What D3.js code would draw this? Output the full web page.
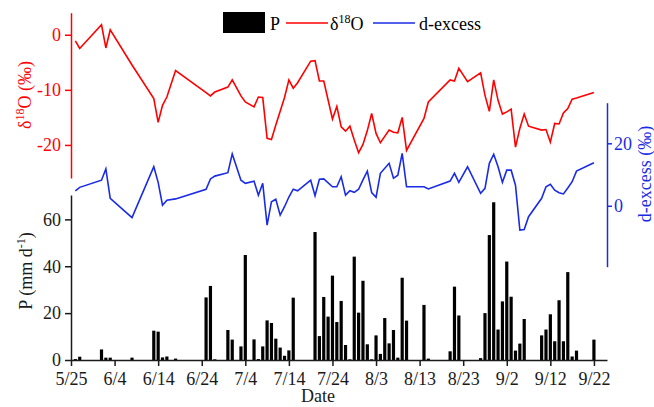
<!DOCTYPE html>
<html>
<head>
<meta charset="utf-8">
<script src="https://cdn.jsdelivr.net/npm/d3@7"></script>
<style>
  body { margin: 0; background: #fff; }
  text { font-family: "Liberation Serif", "Times New Roman", serif; }
</style>
</head>
<body>
<div id="chart"></div>
<script>
// Isotope sampling dates (month/day)
const sampleDates = ["5/26","5/27","6/1","6/2","6/3","6/8","6/13","6/14","6/15","6/16","6/18",
  "6/25","6/26","6/27","6/30","7/1","7/3","7/4","7/6","7/7","7/8","7/9","7/10","7/11","7/12",
  "7/13","7/14","7/15","7/16","7/19","7/20","7/21","7/22","7/24","7/25","7/26","7/27","7/28",
  "7/29","7/30","7/31","8/1","8/2","8/3","8/4","8/6","8/7","8/8","8/9","8/10","8/14","8/15",
  "8/20","8/21","8/22","8/24","8/27","8/28","8/29","8/30","8/31","9/1","9/2","9/3","9/4","9/5",
  "9/6","9/7","9/10","9/11","9/12","9/13","9/14","9/15","9/16","9/17","9/18","9/22"];

// δ18O (‰)
const d18O = [-1.1,-2.5,1.8,-2.4,0.9,-5.5,-11.6,-15.9,-12.8,-11.3,-6.5,
  -10.5,-11.1,-10.4,-9.5,-8.2,-11.1,-12.2,-13.1,-11.3,-11.4,-18.8,-19.0,-16.4,-13.9,
  -11.4,-8.2,-9.7,-8.7,-4.8,-4.7,-8.4,-8.4,-15.3,-13.0,-16.7,-17.5,-16.6,
  -19.1,-21.4,-19.9,-17.4,-14.3,-17.9,-19.6,-17.3,-17.7,-17.8,-15.0,-21.0,-15.2,-12.2,
  -8.2,-8.4,-6.1,-8.5,-6.9,-11.0,-13.9,-8.2,-11.9,-14.4,-14.0,-13.5,-20.4,-17.0,
  -14.4,-16.6,-17.3,-17.2,-19.5,-16.1,-16.2,-14.2,-13.4,-11.7,-11.5,-10.5];

// d-excess (‰)
const dExcess = [4.8,5.9,8.2,11.8,2.4,-3.8,12.5,7.5,0.2,1.8,2.2,
  5.3,8.6,9.5,10.6,16.6,8.2,7.2,7.9,3.4,7.2,-6.2,1.3,2.1,-3.0,
  -0.3,2.8,5.3,4.8,8.2,3.2,8.5,8.6,6.1,6.1,9.3,3.4,4.8,
  4.3,5.3,8.3,11.1,4.2,2.7,10.4,13.6,8.8,9.8,16.8,6.1,6.1,5.4,
  7.9,10.4,7.5,12.5,4.0,5.6,13.6,16.5,12.5,7.5,11.4,11.4,6.6,-7.8,
  -7.6,-3.5,2.4,6.1,6.9,5.0,4.2,3.8,5.7,7.7,11.1,13.8];

// Daily precipitation (mm/d)
const rainDates = ["5/26","5/27","6/1","6/2","6/3","6/8","6/13","6/14","6/15","6/16","6/18",
  "6/25","6/26","6/27","6/30","7/1","7/3","7/4","7/6","7/7","7/8","7/9","7/10","7/11","7/12",
  "7/13","7/14","7/15","7/20","7/21","7/22","7/23","7/24","7/25","7/26","7/27","7/28","7/29",
  "7/30","7/31","8/1","8/2","8/3","8/4","8/5","8/6","8/7","8/8","8/9","8/10","8/14","8/15",
  "8/20","8/21","8/22","8/27","8/28","8/29","8/30","8/31","9/1","9/2","9/3","9/4","9/5","9/6",
  "9/10","9/11","9/12","9/13","9/14","9/15","9/16","9/17","9/18","9/22"];
const rainAmount = [0.4,1.4,4.5,1.0,1.0,1.0,12.5,12.1,1.1,1.5,0.6,
  26.7,31.6,0.3,12.8,8.7,5.8,44.8,8.8,0.4,5.8,16.9,15.8,9.1,5.3,
  1.8,4.1,26.6,54.6,10.2,26.9,18.5,36.0,16.2,25.2,6.4,0.3,44.1,
  20.2,33.8,6.7,0.3,10.5,2.6,17.9,7.1,12.8,1.0,35.1,16.8,23.5,0.6,
  3.7,31.3,19.0,0.8,20.0,53.3,67.3,13.0,25.0,42.0,27.0,4.0,7.0,17.5,
  10.5,13.0,19.5,8.0,25.5,8.0,37.5,1.5,4.0,8.7];

// Tick labels
const dateTicks = ["5/25","6/4","6/14","6/24","7/4","7/14","7/24","8/3","8/13","8/23","9/2","9/12","9/22"];
const d18OTicks = [-20, -10, 0];
const dExcessTicks = [0, 20];
const rainTicks = [0, 20, 40, 60];

const width = 654, height = 407;
const red = "#ff0000", blue = "#1a2be6", dark = "#1a1a1a";

// "m/d" -> Date
const day = s => { const [m, d] = s.split("/").map(Number); return new Date(2019, m - 1, d); };

const svg = d3.select("#chart")
    .append("svg")
    .attr("width", width)
    .attr("height", height);

// Scales
const x = d3.scaleTime().domain([day("5/25"), day("9/25")]).range([71, 607]);
const yO = d3.scaleLinear().domain([-26, 4]).range([178, 12.7]);
const yD = d3.scaleLinear().domain([-19.5, 33]).range([266.7, 102.7]);
const yP = d3.scaleLinear().domain([0, 70.4]).range([360, 195]);

// Precipitation bars
svg.append("g")
    .selectAll("rect")
    .data(rainDates.map((d, i) => ({ date: day(d), v: rainAmount[i] })))
    .join("rect")
    .attr("x", d => x(d.date) - 1.6)
    .attr("width", 3.2)
    .attr("y", d => yP(d.v))
    .attr("height", d => yP(0) - yP(d.v))
    .attr("fill", "#000");

// Isotope lines
const samples = sampleDates.map((d, i) => ({ date: day(d), o: d18O[i], dx: dExcess[i] }));

svg.append("path")
    .datum(samples)
    .attr("fill", "none")
    .attr("stroke", red)
    .attr("stroke-width", 1.6)
    .attr("d", d3.line().x(d => x(d.date)).y(d => yO(d.o)));

svg.append("path")
    .datum(samples)
    .attr("fill", "none")
    .attr("stroke", blue)
    .attr("stroke-width", 1.6)
    .attr("d", d3.line().x(d => x(d.date)).y(d => yD(d.dx)));

// Axis styling helper
const styleAxis = (g, color) => {
    g.select(".domain").attr("stroke", color).attr("stroke-width", 1.5);
    g.selectAll(".tick line").attr("stroke", color).attr("stroke-width", 1.5);
    g.selectAll(".tick text")
        .attr("fill", color)
        .style("font-size", "18px")
        .style("font-family", "'Liberation Serif', serif");
};

// X axis
svg.append("g")
    .attr("transform", "translate(0,360)")
    .call(d3.axisBottom(x)
        .tickValues(dateTicks.map(day))
        .tickFormat(d3.timeFormat("%-m/%-d"))
        .tickSize(6).tickSizeOuter(0).tickPadding(6))
    .call(g => styleAxis(g, dark));

// Precipitation axis
svg.append("g")
    .attr("transform", "translate(71,0)")
    .call(d3.axisLeft(yP).tickValues(rainTicks).tickSize(6).tickSizeOuter(0).tickPadding(4))
    .call(g => styleAxis(g, dark));

// δ18O axis
svg.append("g")
    .attr("transform", "translate(71,0)")
    .call(d3.axisLeft(yO).tickValues(d18OTicks).tickFormat(d => String(d))
        .tickSize(6).tickSizeOuter(0).tickPadding(4))
    .call(g => styleAxis(g, red));

// d-excess axis
svg.append("g")
    .attr("transform", "translate(607,0)")
    .call(d3.axisRight(yD).tickValues(dExcessTicks).tickSize(5).tickSizeOuter(0).tickPadding(2))
    .call(g => styleAxis(g, blue));

// Axis titles
const o18Title = svg.append("text")
    .attr("transform", "translate(31,95) rotate(-90)")
    .attr("text-anchor", "middle")
    .attr("fill", red)
    .style("font-size", "18px");
o18Title.append("tspan").text("δ");
o18Title.append("tspan").attr("dy", -7).style("font-size", "12px").text("18");
o18Title.append("tspan").attr("dy", 7).text("O (‰)");

const pTitle = svg.append("text")
    .attr("transform", "translate(32,271) rotate(-90)")
    .attr("text-anchor", "middle")
    .attr("fill", dark)
    .style("font-size", "18px");
pTitle.append("tspan").text("P (mm d");
pTitle.append("tspan").attr("dy", -7).style("font-size", "12px").text("-1");
pTitle.append("tspan").attr("dy", 7).text(")");

svg.append("text")
    .attr("transform", "translate(651,174) rotate(-90)")
    .attr("text-anchor", "middle")
    .attr("fill", blue)
    .style("font-size", "18px")
    .text("d-excess (‰)");

svg.append("text")
    .attr("x", 318)
    .attr("y", 402)
    .attr("text-anchor", "middle")
    .attr("fill", dark)
    .style("font-size", "18px")
    .text("Date");

// Legend
const legend = svg.append("g");
legend.append("rect")
    .attr("x", 223).attr("y", 12)
    .attr("width", 42).attr("height", 21)
    .attr("fill", "#000");
legend.append("text")
    .attr("x", 270).attr("y", 30)
    .style("font-size", "18px")
    .text("P");
legend.append("line")
    .attr("x1", 286).attr("x2", 328).attr("y1", 23).attr("y2", 23)
    .attr("stroke", red).attr("stroke-width", 1.6);
const legO = legend.append("text")
    .attr("x", 330).attr("y", 30)
    .style("font-size", "18px");
legO.append("tspan").text("δ");
legO.append("tspan").attr("dy", -7).style("font-size", "12px").text("18");
legO.append("tspan").attr("dy", 7).text("O");
legend.append("line")
    .attr("x1", 373).attr("x2", 415).attr("y1", 23).attr("y2", 23)
    .attr("stroke", blue).attr("stroke-width", 1.6);
legend.append("text")
    .attr("x", 419).attr("y", 30)
    .style("font-size", "18px")
    .text("d-excess");
</script>
</body>
</html>
